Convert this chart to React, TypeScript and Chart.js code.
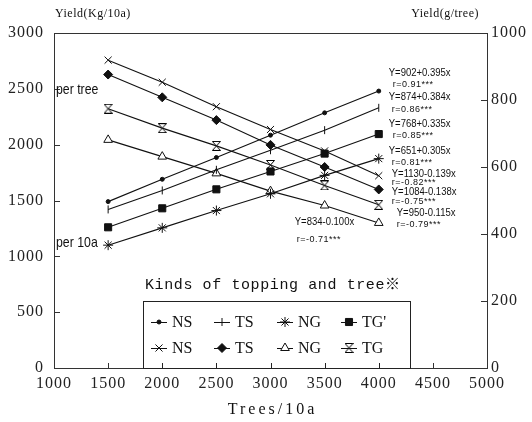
import React, { useEffect, useRef } from "react";
import { Chart, registerables } from "chart.js";
import { drawPoint } from "chart.js/helpers";

Chart.register(...registerables);

// ---- data ----
const trees = [1500, 2000, 2500, 3000, 3500, 4000];

// Yield per 10a (Kg/10a) – left axis
const nsPer10a = [1490, 1690, 1885, 2085, 2285, 2480];
const tsPer10a = [1420, 1590, 1775, 1950, 2130, 2330];
const ngPer10a = [1100, 1255, 1410, 1560, 1725, 1875];
const tgPer10a = [1260, 1430, 1600, 1760, 1920, 2095];

// Yield per tree (g/tree) – right axis
const nsPerTree = [919, 853, 780, 712, 648, 574];
const tsPerTree = [876, 808, 740, 666, 600, 533];
const ngPerTree = [681, 631, 581, 528, 485, 433];
const tgPerTree = [774, 716, 663, 606, 545, 487];

const labelsPer10a = ["NS", "TS", "NG", "TG'"];
const labelsPerTree = ["NS", "TS", "NG", "TG"];

const equationTexts = [
  "Y=902+0.395x",
  "Y=874+0.384x",
  "Y=651+0.305x",
  "Y=768+0.335x",
  "Y=1130-0.139x",
  "Y=1084-0.138x",
  "Y=834-0.100x",
  "Y=950-0.115x",
];
const rTexts = [
  "r=0.91***",
  "r=0.86***",
  "r=0.81***",
  "r=0.85***",
  "r=-0.82***",
  "r=-0.75***",
  "r=-0.71***",
  "r=-0.79***",
];

const xTitle = "Trees/10a";
const leftTitle = "Yield(Kg/10a)";
const rightTitle = "Yield(g/tree)";
const legendTitle = "Kinds of topping and tree※";
const perTreeText = "per tree";
const per10aText = "per 10a";

// ---- styling ----
const INK = "#111";
const SERIF = '"Liberation Serif", "DejaVu Serif", serif';
const MONO = '"Liberation Mono", "DejaVu Sans Mono", "Noto Sans CJK JP", monospace';
const SANS = '"Liberation Sans", "Noto Sans", sans-serif';

function makeHourglass(): HTMLCanvasElement {
  const c = document.createElement("canvas");
  c.width = 9;
  c.height = 10;
  const g = c.getContext("2d")!;
  g.fillStyle = "#fff";
  g.strokeStyle = "#000";
  g.lineWidth = 1;
  g.beginPath();
  g.moveTo(0.5, 0.5);
  g.lineTo(8.5, 0.5);
  g.lineTo(0.5, 9.5);
  g.lineTo(8.5, 9.5);
  g.closePath();
  g.fill();
  g.stroke();
  return c;
}

function pts(ys: number[]) {
  return trees.map((x, i) => ({ x, y: ys[i] }));
}

function condensedText(ctx: CanvasRenderingContext2D, text: string, x: number, y: number, sx: number) {
  ctx.save();
  ctx.translate(x, y);
  ctx.scale(sx, 1);
  ctx.fillText(text, 0, 0);
  ctx.restore();
}

// annotation offsets relative to each line's last point: [eqDx, eqDy, rDx, rDy]
const annotOffsets = [
  [10, -18, 14, -7],
  [10, -11, 13, 2],
  [10, -7, 13, 4],
  [10, -10, 14, 1],
  [13, -1, 13, 7],
  [13, 3, 13, 12],
  [-84, -1, -82, 17],
  [18, 8, 18, 20],
];

const chartPlugin = {
  id: "frameAndNotes",
  beforeDraw(chart: any) {
    chart.ctx.letterSpacing = "1px";
  },
  beforeDatasetsDraw(chart: any) {
    const { ctx, chartArea: a, scales } = chart;
    ctx.save();
    ctx.letterSpacing = "0px";
    ctx.strokeStyle = "#333";
    ctx.lineWidth = 1;
    ctx.beginPath();
    ctx.moveTo(a.left, a.top + 0.5);
    ctx.lineTo(a.right, a.top + 0.5);
    const sx = scales.x;
    sx.ticks.forEach((t: any) => {
      const px = Math.round(sx.getPixelForValue(t.value)) + 0.5;
      ctx.moveTo(px, a.bottom);
      ctx.lineTo(px, a.bottom - 5);
    });
    const sy = scales.y;
    sy.ticks.forEach((t: any) => {
      const py = Math.round(sy.getPixelForValue(t.value)) + 0.5;
      ctx.moveTo(a.left, py);
      ctx.lineTo(a.left + 6, py);
    });
    const sy1 = scales.y1;
    sy1.ticks.forEach((t: any) => {
      const py = Math.round(sy1.getPixelForValue(t.value)) + 0.5;
      ctx.moveTo(a.right, py);
      ctx.lineTo(a.right - 6, py);
    });
    ctx.stroke();
    ctx.restore();
  },
  afterDatasetsDraw(chart: any) {
    const { ctx, chartArea: a } = chart;
    ctx.save();
    ctx.fillStyle = INK;
    ctx.textBaseline = "middle";

    // axis titles
    ctx.letterSpacing = "0.5px";
    ctx.font = `12px ${SERIF}`;
    ctx.textAlign = "left";
    ctx.fillText(leftTitle, a.left + 1, 14);
    ctx.textAlign = "right";
    ctx.fillText(rightTitle, a.right - 8, 14);

    ctx.letterSpacing = "3px";
    ctx.font = `16px ${SERIF}`;
    ctx.textAlign = "center";
    ctx.fillText(xTitle, (a.left + a.right) / 2 + 2, a.bottom + 42);

    // side notes (condensed sans)
    ctx.letterSpacing = "0px";
    ctx.font = `15px ${SANS}`;
    ctx.textAlign = "left";
    condensedText(ctx, perTreeText, a.left + 2, 90, 0.82);
    condensedText(ctx, per10aText, a.left + 2, 243, 0.82);

    // regression equations
    chart.data.datasets.forEach((ds: any, i: number) => {
      const meta = chart.getDatasetMeta(i);
      const last = meta.data[meta.data.length - 1];
      const [edx, edy, rdx, rdy] = annotOffsets[i];
      ctx.textAlign = "left";
      ctx.font = `10px ${SANS}`;
      condensedText(ctx, equationTexts[i], last.x + edx, last.y + edy, 0.95);
      ctx.font = `9px ${SANS}`;
      ctx.letterSpacing = "0.5px";
      ctx.fillText(rTexts[i], last.x + rdx, last.y + rdy);
      ctx.letterSpacing = "0px";
    });

    // legend box
    const bx = a.left + 89;
    const by = a.bottom - 67;
    const bw = 267;
    const bh = 67;
    ctx.fillStyle = "#fff";
    ctx.fillRect(bx, by, bw, bh);
    ctx.strokeStyle = "#222";
    ctx.lineWidth = 1;
    ctx.strokeRect(bx + 0.5, by + 0.5, bw, bh);
    ctx.beginPath();
    const sx = chart.scales.x;
    sx.ticks.forEach((t: any) => {
      const px = Math.round(sx.getPixelForValue(t.value)) + 0.5;
      if (px > bx && px < bx + bw) {
        ctx.moveTo(px, a.bottom);
        ctx.lineTo(px, a.bottom - 5);
      }
    });
    ctx.stroke();

    ctx.fillStyle = INK;
    ctx.letterSpacing = "0.6px";
    ctx.font = `15px ${MONO}`;
    ctx.textAlign = "left";
    ctx.fillText(legendTitle, bx + 2, by - 16);
    ctx.letterSpacing = "0px";

    const colX = [16, 79, 142, 206];
    const rowY = [21, 47];
    chart.data.datasets.forEach((ds: any, i: number) => {
      const row = i < 4 ? 0 : 1;
      const col = i % 4;
      const cx = bx + colX[col];
      const cy = by + rowY[row];
      ctx.strokeStyle = INK;
      ctx.lineWidth = 1;
      ctx.beginPath();
      ctx.moveTo(cx - 8, cy + 0.5);
      ctx.lineTo(cx + 8, cy + 0.5);
      ctx.stroke();
      ctx.fillStyle = ds.pointBackgroundColor;
      ctx.strokeStyle = INK;
      ctx.lineWidth = 1;
      drawPoint(ctx, {
        pointStyle: ds.pointStyle,
        rotation: ds.pointRotation || 0,
        radius: ds.pointRadius,
        borderWidth: 1,
      }, cx, cy);
      ctx.fillStyle = INK;
      ctx.font = `16px ${SERIF}`;
      ctx.textAlign = "left";
      ctx.fillText(ds.label, cx + 13, cy + 1);
    });

    ctx.restore();
  },
  afterDraw(chart: any) {
    chart.ctx.letterSpacing = "0px";
  },
};

export default function App() {
  const ref = useRef<HTMLCanvasElement | null>(null);

  useEffect(() => {
    document.body.style.margin = "0";
    const canvas = ref.current!;
    const hourglass = makeHourglass();

    const base = {
      borderColor: INK,
      borderWidth: 1.1,
      pointBorderColor: INK,
      pointBorderWidth: 1,
      tension: 0,
      fill: false,
    };

    const datasets: any[] = [
      { ...base, label: labelsPer10a[0], data: pts(nsPer10a), yAxisID: "y", pointStyle: "circle", pointRadius: 2, pointBackgroundColor: INK },
      { ...base, label: labelsPer10a[1], data: pts(tsPer10a), yAxisID: "y", pointStyle: "line", pointRotation: 90, pointRadius: 4, pointBackgroundColor: INK },
      { ...base, label: labelsPer10a[2], data: pts(ngPer10a), yAxisID: "y", pointStyle: "star", pointRadius: 5, pointBackgroundColor: INK },
      { ...base, label: labelsPer10a[3], data: pts(tgPer10a), yAxisID: "y", pointStyle: "rect", pointRadius: 5, pointBackgroundColor: INK },
      { ...base, label: labelsPerTree[0], data: pts(nsPerTree), yAxisID: "y1", pointStyle: "crossRot", pointRadius: 5, pointBackgroundColor: INK },
      { ...base, label: labelsPerTree[1], data: pts(tsPerTree), yAxisID: "y1", pointStyle: "rectRot", pointRadius: 4.5, pointBackgroundColor: INK },
      { ...base, label: labelsPerTree[2], data: pts(ngPerTree), yAxisID: "y1", pointStyle: "triangle", pointRadius: 5, pointBackgroundColor: "#fff" },
      { ...base, label: labelsPerTree[3], data: pts(tgPerTree), yAxisID: "y1", pointStyle: hourglass, pointRadius: 5, pointBackgroundColor: "#fff" },
    ];

    const tickFont = { family: SERIF, size: 16 };

    const chart = new Chart(canvas, {
      type: "line",
      data: { datasets },
      options: {
        animation: false,
        responsive: false,
        devicePixelRatio: 1,
        layout: { padding: { top: 33, left: 0, right: 0, bottom: 0 } },
        plugins: {
          legend: { display: false },
          tooltip: { enabled: false },
        },
        scales: {
          x: {
            type: "linear",
            min: 1000,
            max: 5000,
            ticks: { stepSize: 500, font: tickFont, color: "#222", padding: 6, maxRotation: 0, autoSkip: false, callback: (v: any) => String(v) },
            grid: { display: false, drawTicks: false },
            border: { display: true, color: "#333", width: 1 },
            afterFit: (s: any) => { s.height = 54; },
          },
          y: {
            type: "linear",
            position: "left",
            min: 0,
            max: 3000,
            ticks: { stepSize: 500, font: tickFont, color: "#222", padding: 10, callback: (v: any) => String(v) },
            grid: { display: false, drawTicks: false },
            border: { display: true, color: "#333", width: 1 },
            afterFit: (s: any) => { s.width = 54; },
          },
          y1: {
            type: "linear",
            position: "right",
            min: 0,
            max: 1000,
            ticks: { stepSize: 200, font: tickFont, color: "#222", padding: 4, callback: (v: any) => String(v) },
            grid: { display: false, drawTicks: false },
            border: { display: true, color: "#333", width: 1 },
            afterFit: (s: any) => { s.width = 45; },
          },
        },
      },
      plugins: [chartPlugin],
    });

    return () => chart.destroy();
  }, []);

  return <canvas ref={ref} width={532} height={422} style={{ display: "block" }} />;
}
